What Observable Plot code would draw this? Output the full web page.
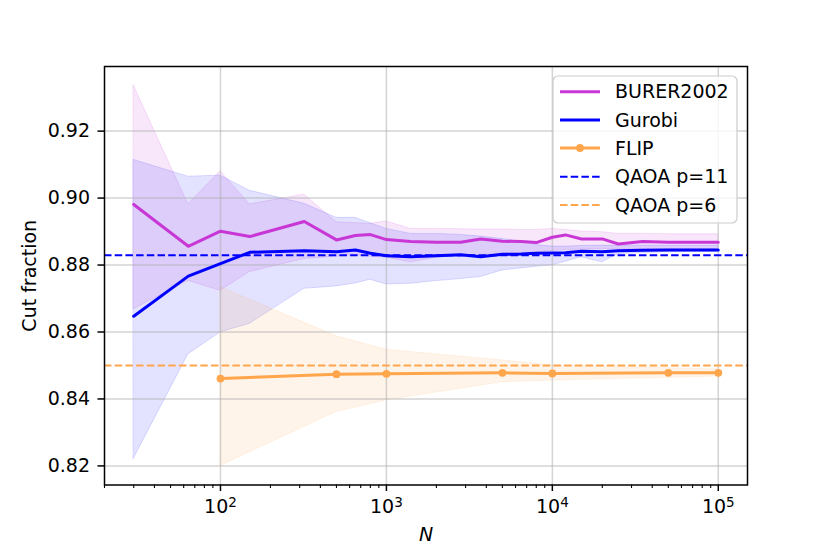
<!DOCTYPE html>
<html>
<head>
<meta charset="utf-8">
<script src="https://cdn.jsdelivr.net/npm/d3@7"></script>
<script src="https://cdn.jsdelivr.net/npm/@observablehq/plot@0.6"></script>
<style>
  html, body { margin: 0; padding: 0; background: white; }
  #chart { width: 830px; height: 554px; }
</style>
</head>
<body>
<div id="chart"></div>
<script>
// ---- data ----
const N = [30, 64, 100, 150, 320, 500, 650, 800, 1000, 1400, 2000, 2800, 3700, 5000, 6500, 8000, 10000, 12000, 15000, 20000, 25000, 35000, 50000, 100000];

const burerMean = [0.8981, 0.8856, 0.8901, 0.8885, 0.8930, 0.8875, 0.8888, 0.8891, 0.8876, 0.8870, 0.8868, 0.8868, 0.8878, 0.8871, 0.8870, 0.8867, 0.8883, 0.8890, 0.8878, 0.8878, 0.8863, 0.8870, 0.8868, 0.8868];
const burerHi   = [0.9336, 0.8981, 0.9080, 0.8981, 0.9010, 0.8928, 0.8925, 0.8923, 0.8930, 0.8908, 0.8908, 0.8907, 0.8906, 0.8906, 0.8905, 0.8905, 0.8908, 0.8905, 0.8900, 0.8898, 0.8893, 0.8893, 0.8892, 0.8892];
const burerLo   = [0.8668, 0.8753, 0.8723, 0.8779, 0.8818, 0.8825, 0.8830, 0.8825, 0.8822, 0.8808, 0.8822, 0.8828, 0.8830, 0.8835, 0.8836, 0.8838, 0.8842, 0.8845, 0.8846, 0.8848, 0.8848, 0.8848, 0.8848, 0.8848];

const gurobiMean = [0.8647, 0.8767, 0.8804, 0.8838, 0.8843, 0.8840, 0.8845, 0.8835, 0.8828, 0.8825, 0.8828, 0.8831, 0.8825, 0.8832, 0.8833, 0.8835, 0.8836, 0.8837, 0.8841, 0.8840, 0.8843, 0.8844, 0.8845, 0.8845];
const gurobiHi   = [0.9114, 0.9064, 0.9067, 0.9022, 0.8983, 0.8941, 0.8941, 0.8925, 0.8908, 0.8893, 0.8893, 0.8890, 0.8885, 0.8878, 0.8870, 0.8860, 0.8855, 0.8855, 0.8857, 0.8858, 0.8858, 0.8858, 0.8858, 0.8858];
const gurobiLo   = [0.8221, 0.8533, 0.8599, 0.8624, 0.8729, 0.8736, 0.8745, 0.8756, 0.8742, 0.8744, 0.8752, 0.8758, 0.8764, 0.8784, 0.8790, 0.8795, 0.8799, 0.8810, 0.8823, 0.8808, 0.8833, 0.8836, 0.8838, 0.8840];

const flipN    = [100, 500, 1000, 5000, 10000, 50000, 100000];
const flipMean = [0.8461, 0.8474, 0.8475, 0.8478, 0.8476, 0.8478, 0.8478];
const flipHi   = [0.8734, 0.8587, 0.8547, 0.8515, 0.8500, 0.8492, 0.8488];
const flipLo   = [0.8200, 0.8361, 0.8396, 0.8450, 0.8455, 0.8463, 0.8467];

const qaoaP11 = 0.8829;
const qaoaP6 = 0.8500;

const xTicks = [100, 1000, 10000, 100000];
const xTickBase = "10";
const xTickExp = ["2", "3", "4", "5"];
const xMinorTicks = [20, 30, 40, 50, 60, 70, 80, 90, 200, 300, 400, 500, 600, 700, 800, 900, 2000, 3000, 4000, 5000, 6000, 7000, 8000, 9000, 20000, 30000, 40000, 50000, 60000, 70000, 80000, 90000];
const yTicks = [0.82, 0.84, 0.86, 0.88, 0.90, 0.92];

const legendLabels = ["BURER2002", "Gurobi", "FLIP", "QAOA p=11", "QAOA p=6"];

// ---- styles ----
const MAG = "#c837d6";
const BLUE = "#0000ff";
const ORANGE = "#ffa64d";

const burer = N.map((n, i) => ({N: n, mean: burerMean[i], lo: burerLo[i], hi: burerHi[i]}));
const gurobi = N.map((n, i) => ({N: n, mean: gurobiMean[i], lo: gurobiLo[i], hi: gurobiHi[i]}));
const flip = flipN.map((n, i) => ({N: n, mean: flipMean[i], lo: flipLo[i], hi: flipHi[i]}));

const gridStyle = {stroke: "#b0b0b0", strokeOpacity: 0.55, strokeWidth: 1.5};

const chart = Plot.plot({
  width: 830,
  height: 554,
  marginLeft: 104,
  marginRight: 83,
  marginTop: 66,
  marginBottom: 69.5,
  x: {type: "log", domain: [20, 150000]},
  y: {domain: [0.8143, 0.9393]},
  style: {fontFamily: "DejaVu Sans", fontSize: "19px", background: "white", color: "black"},
  marks: [
    Plot.areaY(burer, {x: "N", y1: "lo", y2: "hi", fill: MAG, fillOpacity: 0.12, stroke: MAG, strokeOpacity: 0.15, strokeWidth: 1}),
    Plot.areaY(gurobi, {x: "N", y1: "lo", y2: "hi", fill: BLUE, fillOpacity: 0.11, stroke: BLUE, strokeOpacity: 0.13, strokeWidth: 1}),
    Plot.areaY(flip, {x: "N", y1: "lo", y2: "hi", fill: ORANGE, fillOpacity: 0.12, stroke: ORANGE, strokeOpacity: 0.12, strokeWidth: 1}),
    Plot.gridX(xTicks, gridStyle),
    Plot.gridY(yTicks, gridStyle),
    Plot.ruleY([qaoaP11], {stroke: BLUE, strokeWidth: 2, strokeDasharray: "7.5,3.2"}),
    Plot.ruleY([qaoaP6], {stroke: ORANGE, strokeWidth: 2, strokeDasharray: "7.5,3.2"}),
    Plot.line(burer, {x: "N", y: "mean", stroke: MAG, strokeWidth: 3}),
    Plot.line(gurobi, {x: "N", y: "mean", stroke: BLUE, strokeWidth: 3}),
    Plot.line(flip, {x: "N", y: "mean", stroke: ORANGE, strokeWidth: 3}),
    Plot.dot(flip, {x: "N", y: "mean", r: 3.9, fill: ORANGE}),
    Plot.axisX({ticks: xMinorTicks, tickSize: 3.5, tickFormat: () => "", label: null, strokeWidth: 1.1}),
    Plot.axisX({ticks: xTicks, tickSize: 6.5, tickPadding: 8, tickFormat: d => xTickBase + "^" + xTickExp[xTicks.indexOf(d)], label: null, strokeWidth: 1.5, className: "xmajor"}),
    Plot.axisY({ticks: yTicks, tickSize: 6.5, tickPadding: 8, tickFormat: d3.format(".2f"), label: null, strokeWidth: 1.5}),
    Plot.frame({stroke: "black", strokeWidth: 1.5}),
    Plot.text(["Cut fraction"], {text: d => d, frameAnchor: "left", dx: -75, rotate: -90, textAnchor: "middle"}),
    Plot.text(["N"], {text: d => d, frameAnchor: "bottom", dy: 50, fontStyle: "italic", lineAnchor: "middle"})
  ]
});

document.getElementById("chart").appendChild(chart);

const svg = d3.select(chart);

// render "10^k" tick labels as real superscripts (like matplotlib mathtext)
svg.selectAll("text").each(function() {
  const t = d3.select(this);
  const s = t.text();
  const m = /^10\^(\d)$/.exec(s);
  if (!m) return;
  t.text(null);
  t.append("tspan").text("10");
  t.append("tspan").attr("font-size", "13.5px").attr("dy", "-0.45em").text(m[1]);
});

// ---- legend (inside the axes, upper right) ----
const lg = svg.append("g").attr("font-family", "DejaVu Sans").attr("font-size", "19px").attr("text-anchor", "start");
lg.append("rect")
  .attr("x", 553).attr("y", 76).attr("width", 184).attr("height", 147)
  .attr("rx", 5).attr("ry", 5)
  .attr("fill", "white").attr("fill-opacity", 0.8)
  .attr("stroke", "#cccccc").attr("stroke-width", 1.2);
const rowY = [91.7, 120, 148, 176.7, 205];
const legendStyles = [
  {stroke: MAG, width: 3, dash: null, marker: false},
  {stroke: BLUE, width: 3, dash: null, marker: false},
  {stroke: ORANGE, width: 3, dash: null, marker: true},
  {stroke: BLUE, width: 2, dash: "7.5,3.2", marker: false},
  {stroke: ORANGE, width: 2, dash: "7.5,3.2", marker: false}
];
legendLabels.forEach((lab, i) => {
  const s = legendStyles[i];
  const l = lg.append("line")
    .attr("x1", 560).attr("x2", 600).attr("y1", rowY[i]).attr("y2", rowY[i])
    .attr("stroke", s.stroke).attr("stroke-width", s.width);
  if (s.dash) l.attr("stroke-dasharray", s.dash);
  if (s.marker) lg.append("circle").attr("cx", 580).attr("cy", rowY[i]).attr("r", 3.9).attr("fill", s.stroke);
  lg.append("text").attr("x", 615).attr("y", rowY[i]).attr("dy", "0.35em").attr("fill", "black").attr("text-anchor", "start").text(lab);
});
</script>
</body>
</html>
